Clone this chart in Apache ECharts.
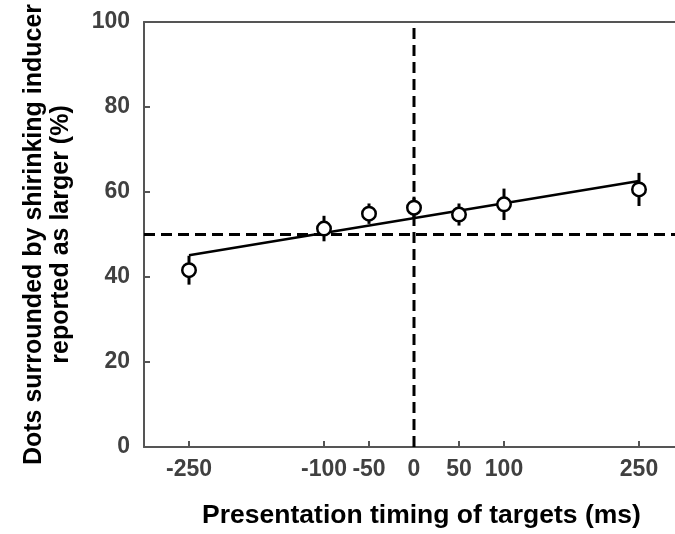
<!DOCTYPE html>
<html>
<head>
<meta charset="utf-8">
<script src="https://cdn.jsdelivr.net/npm/echarts@6/dist/echarts.min.js"></script>
<style>
  html, body { margin: 0; padding: 0; background: #fff; }
  #chart { width: 675px; height: 534px; }
</style>
</head>
<body>
<div id="chart"></div>
<script>
// 数据
var timings = [-250, -100, -50, 0, 50, 100, 250];
var percents = [41.6, 51.4, 54.9, 56.3, 54.7, 57.1, 60.6];
var errors = [3.4, 3.0, 2.4, 2.6, 2.6, 3.7, 3.9];
var fitX = [-250, 250];
var fitY = [45.1, 62.6];
var xTicks = [-250, -100, -50, 0, 50, 100, 250];

var axisColor = '#555555';
var labelColor = '#404040';
var fontFam = 'Liberation Sans, Arial, sans-serif';

var chart = echarts.init(document.getElementById('chart'));

var points = timings.map(function (t, i) { return [t, percents[i]]; });
var bars = timings.map(function (t, i) { return [t, percents[i] - errors[i], percents[i] + errors[i]]; });

var option = {
  animation: false,
  grid: { left: 144, right: 0, top: 22, bottom: 85 },
  xAxis: [{
    type: 'value',
    min: -300,
    max: 290,
    splitLine: { show: false },
    axisLine: { onZero: false, lineStyle: { color: axisColor, width: 2 } },
    axisTick: { inside: true, length: 6, customValues: xTicks, lineStyle: { color: axisColor, width: 2 } },
    axisLabel: {
      customValues: xTicks, margin: 11, color: labelColor,
      fontSize: 23, fontWeight: 'bold', fontFamily: fontFam
    },
    name: 'Presentation timing of targets (ms)',
    nameLocation: 'middle',
    nameGap: 55,
    nameTextStyle: { color: '#000', fontSize: 26.5, fontWeight: 'bold', fontFamily: fontFam, padding: [0, 0, 0, 24] }
  }, {
    type: 'value',
    position: 'top',
    min: -300,
    max: 290,
    splitLine: { show: false },
    axisLine: { show: true, onZero: false, lineStyle: { color: axisColor, width: 2 } },
    axisTick: { show: false },
    axisLabel: { show: false }
  }],
  yAxis: {
    type: 'value',
    min: 0,
    max: 100,
    interval: 20,
    splitLine: { show: false },
    axisLine: { show: true, onZero: false, lineStyle: { color: axisColor, width: 2 } },
    axisTick: { show: true, inside: true, length: 6, lineStyle: { color: axisColor, width: 2 } },
    axisLabel: { margin: 14, color: labelColor, fontSize: 23, fontWeight: 'bold', fontFamily: fontFam },
    name: 'Dots surrounded by shirinking inducer\nreported as larger (%)',
    nameLocation: 'middle',
    nameGap: 69,
    nameTextStyle: { color: '#000', fontSize: 25, fontWeight: 'bold', fontFamily: fontFam, lineHeight: 27 }
  },
  series: [
    {
      type: 'line',
      data: [[-300, 50], [290, 50]],
      symbol: 'none',
      silent: true,
      lineStyle: { color: '#000', width: 3, type: [11, 6] },
      z: 1
    },
    {
      type: 'line',
      data: [[0, 0], [0, 100]],
      symbol: 'none',
      silent: true,
      lineStyle: { color: '#000', width: 3, type: [11, 6] },
      z: 1
    },
    {
      type: 'line',
      data: fitX.map(function (x, i) { return [x, fitY[i]]; }),
      symbol: 'none',
      lineStyle: { color: '#000', width: 2.5 },
      z: 2
    },
    {
      type: 'custom',
      data: bars,
      z: 3,
      renderItem: function (params, api) {
        var lo = api.coord([api.value(0), api.value(1)]);
        var hi = api.coord([api.value(0), api.value(2)]);
        return {
          type: 'line',
          shape: { x1: lo[0], y1: lo[1], x2: hi[0], y2: hi[1] },
          style: { stroke: '#000', lineWidth: 3 }
        };
      }
    },
    {
      type: 'scatter',
      data: points,
      symbol: 'circle',
      symbolSize: 13.5,
      itemStyle: { color: '#fff', opacity: 1, borderColor: '#000', borderWidth: 2.5 },
      z: 4
    }
  ]
};

chart.setOption(option);
</script>
</body>
</html>
